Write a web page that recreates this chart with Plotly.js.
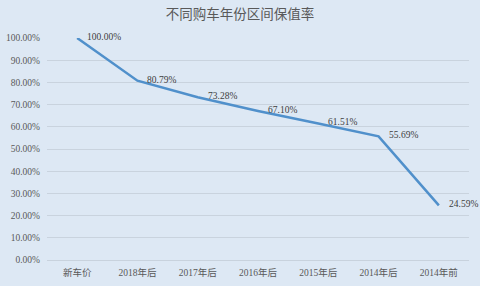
<!DOCTYPE html>
<html><head><meta charset="utf-8">
<script src="https://cdn.plot.ly/plotly-3.0.1.min.js"></script>
<style>html,body{margin:0;padding:0;background:#dde8f4;}</style>
</head><body>
<div id="chart" style="width:480px;height:286px;"></div>
<script>
const categories = ["新车价","2018年后","2017年后","2016年后","2015年后","2014年后","2014年前"];
const values = [1.0, 0.8079, 0.7328, 0.6710, 0.6151, 0.5569, 0.2459];
const labels = ["100.00%","80.79%","73.28%","67.10%","61.51%","55.69%","24.59%"];
const yTicks = [0,0.1,0.2,0.3,0.4,0.5,0.6,0.7,0.8,0.9,1.0];
const yTickText = ["0.00%","10.00%","20.00%","30.00%","40.00%","50.00%","60.00%","70.00%","80.00%","90.00%","100.00%"];

const trace = {
  x: categories, y: values, type: "scatter", mode: "lines",
  line: {color: "#5090cb", width: 2.5},
  cliponaxis: false, hoverinfo: "none"
};
const annotations = categories.map((c, i) => ({
  x: c, y: values[i], xref: "x", yref: "y", text: labels[i],
  showarrow: false, xanchor: "left", yanchor: "middle", xshift: 8, yshift: 1,
  font: {family: "Liberation Serif, serif", size: 9.5, color: "#404040"}
}));
const layout = {
  width: 480, height: 286,
  paper_bgcolor: "#dde8f4", plot_bgcolor: "#dde8f4",
  margin: {l: 47, r: 11, t: 38, b: 26},
  title: {text: "不同购车年份区间保值率", x: 0.5, xanchor: "center", y: 0.95, yanchor: "middle",
    font: {family: "Noto Sans CJK SC, sans-serif", size: 13.5, color: "#595959"}},
  showlegend: false,
  annotations: annotations,
  xaxis: {type: "category", range: [-0.5, 6.5], showgrid: false, zeroline: false, showline: true,
    linecolor: "#c8d2dd", linewidth: 1, ticks: "", ticklabelstandoff: 4,
    tickfont: {family: "Liberation Serif, Noto Sans CJK SC, serif", size: 9.5, color: "#595959"}},
  yaxis: {range: [0, 1], tickvals: yTicks, ticktext: yTickText, showgrid: true,
    gridcolor: "#c9d3de", gridwidth: 1, zeroline: false, showline: false, ticks: "",
    ticklabelstandoff: 6,
    tickfont: {family: "Liberation Serif, serif", size: 9.5, color: "#595959"}}
};
Plotly.newPlot("chart", [trace], layout, {displayModeBar: false, staticPlot: true});
</script>
</body></html>
